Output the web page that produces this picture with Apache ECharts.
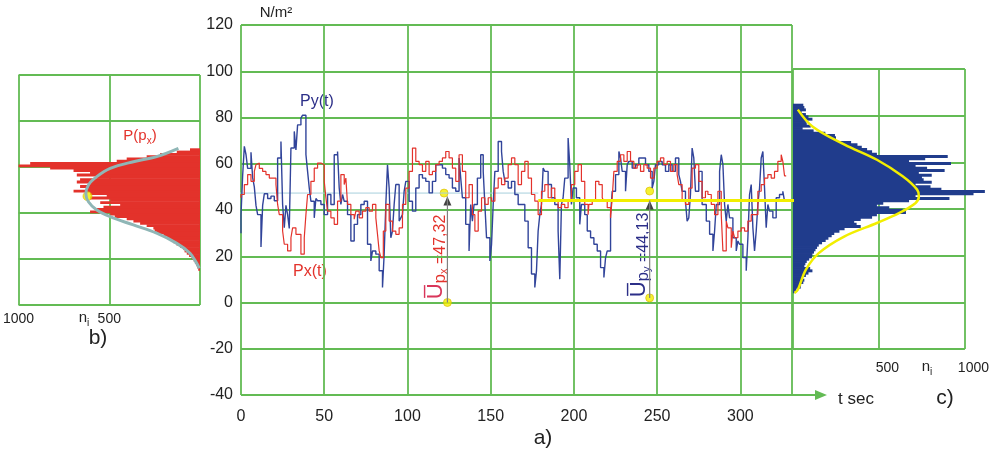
<!DOCTYPE html>
<html>
<head>
<meta charset="utf-8">
<script src="https://cdn.jsdelivr.net/npm/echarts@6.0.0/dist/echarts.min.js"></script>
<style>
  html, body { margin: 0; padding: 0; background: #ffffff; }
  #chart { width: 992px; height: 452px; }
</style>
</head>
<body>
<div id="chart"></div>
<script>
// ---- pressure time series, N/m2 versus time, s ----
const pyTime = [0,1,2,3,4,6,7,8,9,10,12,13,14,16,18,20,22,24,25,26,27,28,29,30,32,33,34,36,37,39,40,41,42,44,45,46,48,50,52,54,56,58,59,60,61,62,64,66,68,70,72,74,76,78,79,81,83,85,86,87,88,89,90,91,92,93,95,96,97,98,99,101,103,105,107,109,111,113,115,117,119,121,123,125,127,129,131,132,133,135,137,138,139,140,142,144,145.5,146.5,147.5,149.5,150.5,151.5,152.5,154.5,156.5,157.5,158.5,160.5,162.5,164.5,166.5,168.5,170.5,172.5,174.5,176.5,177.5,178.5,179.5,180.5,181.5,182.5,184.5,186.5,188.5,190.5,191.5,192.5,193.5,194.5,196.5,197.5,198.5,199.5,201.5,203.5,204.5,206.5,208,210,212,214,216,218,219,220,222,223,225,227,228,229,231,232,233,235,237,239,241,243,245,247,248,249,251,253,255,257,259,261,263,264,265,267,268,269,270,271,272,273,275,277,279.5,281.5,283.5,284.5,285.5,287.5,288.5,289.5,290.5,291.5,292.5,293.5,295.5,297.5,298.5,299.5,301.5,303.5,304.5,305.5,306.5,307.5,308.5,309.5,310.5,311.5,312.5,313.5,314.5,315.5,316.5,317.5,319.5,321.5,323.5,325.5,326.5,327.5];
const pyValue = [30,38,55,67.5,64,58,65,54,50,42,38,24,42,47,45,46,44,62.5,69.6,42.4,32.3,42,38,32,66.8,74,66,76.8,79.7,81,64,56.7,49.5,43.8,36.6,45,44,42.4,38,46.7,42.4,63.9,65.3,49.5,42.4,46.7,43.8,38,26.6,33.8,38,42.4,43.8,25.2,18,22.3,20.9,13.7,6.5,20.9,42.4,59.6,49.5,28,30.9,42.4,51,35.2,36.6,38,48.1,52.4,43.8,39.5,49.5,55.3,53.8,52.4,47.4,52.4,59.6,59.6,58.1,55.3,53.8,49.5,48.1,62.5,53.8,45.3,33.8,22.3,42.4,35.2,42.4,53.8,63.9,56.7,42.4,28,18,25,42.4,56.7,69.6,65.3,56.7,52.4,49.5,52.4,46.7,42.4,42.4,35.2,23.7,12.3,6.5,13.7,30.9,38,42.4,58.1,56.7,51,45.3,42.4,30.9,10.1,42.4,45.3,53.8,71.1,59.6,42.4,49.5,45.3,33.8,42.4,38,30.9,28,25.2,22.3,15.1,10.8,19.4,22.3,38,48.1,55.3,65.3,62.5,56.7,48.1,59.6,61,58.1,59.6,62.5,62.5,59.6,56.7,49.5,52.4,59.6,61,59.6,56.7,59.6,56.7,62.5,55.3,52.4,48.1,43.8,35.2,36.6,46.7,66.8,62.5,48.1,56.7,42.4,35.2,29.5,22.3,30.9,42.4,56.7,63.9,59.6,42.4,35.2,42.4,36.6,28,22.3,26.6,25.2,19.4,13.7,28,46.7,51,32.3,22.3,30.9,42.4,49.5,62.5,65.3,49.5,32.3,42.4,39.5,36.6,45.3,46.7,48.1,43.8];

const pxTime = [0,2,4,6,8,9,10,11,13,15,17,19,21,22,23,25,26,28,30,31,33,36,38,39,40,42,44,46,48,50,51,52,54,56,58,60,62,63,64,66,68,69,71,73,75,77,79,81,82,83,84,85.5,87,89,91,93,95,97,99,101,103,105,107,109,111,113,115,117,119,121,123,125,127,129,131,133,135,137,139,140.5,142.5,144.5,146.5,148.5,150.5,152.5,154.5,156.5,158.5,160.5,162.5,164.5,166.5,168.5,170.5,172.5,174.5,176.5,178.5,180.5,182.5,184.5,186.5,188.5,190.5,192.5,194.5,196.5,198.5,200.5,202.5,204.5,206.5,208.5,209,211,213,215,217,218,220,222,223,224,226,228,230,232,234,236,238,240,242,244,246,248,250,252,254,256,258,260,262,263,265,267,269,271,273,275,277,279,280.5,282.5,284.5,286.5,288.5,289.5,291.5,292.5,294.5,295.5,296.5,298.5,300.5,302.5,304.5,306.5,308.5,310.5,312.5,314.5,316.5,318.5,320.5,322.5,324.5,325.5,326.5,327.5];
const pxValue = [45.3,46.7,51,55.3,52.4,56.7,59.6,60.3,58,56.7,55.3,53.8,53.8,51,42.4,38,30.9,25.2,22.3,28,32.3,29.5,20.9,28,38,46.7,52.4,58.1,60.3,59.6,52.4,45.3,39.5,36.6,33.8,43.8,55.3,51,53.8,42.4,38,36,39.5,36.6,39.5,41,39.5,42.4,36.6,29.5,22.3,19.4,30.9,42.4,35.2,30.9,29.5,32.3,42.4,49.5,56.7,66.8,61,59.6,56.7,61,55.3,56.7,59.6,61,62.5,65.3,62.5,58.1,52.4,63.9,56.7,45.3,51,38,30.9,39.5,45.3,42.4,45.3,43.8,49.5,53.8,51,53.8,59.6,62.5,59.6,51,56.7,61,53.8,46.7,43.8,38,48.1,51,45.3,49.5,43.8,41,42.4,41,43.8,51,56.7,59.6,52.4,42.4,38,42.4,43.8,52.4,51,45.3,43.8,41,36.6,45.3,56.7,61,63.9,61,65.3,61,58.1,59.6,56.7,59.6,58.1,53.8,58.1,61,62.5,59.6,61,56.7,59.6,55.3,51,43.8,42.4,49.5,58.1,59.6,52.4,45.3,48.1,46.7,42.4,38,48.1,38,22.3,35.2,32.3,23.7,30.9,28,30.9,32.3,30.9,35.2,38,38,48.1,51,53.8,55.3,53.8,56.7,61,63.9,61,54.8];

// ---- distribution histograms: level (N/m2, 1-wide bins) and number of readings ----
const pxLevels = [15,16,17,18,19,20,21,22,23,24,25,26,27,28,29,30,31,32,33,34,35,36,37,38,39,40,41,42,43,44,45,46,47,48,49,50,51,52,53,54,55,56,57,58,59,60,61,62,63,64,65,66,67];
const pxCounts = [10,15,20,28,35,46,60,73,85,92,110,130,147,165,183,202,239,250,257,294,330,367,404,470,495,606,570,532,440,550,495,606,514,606,697,624,661,606,679,661,569,679,606,697,826,1000,936,459,404,294,220,128,55];

const pyLevels = [4,5,6,7,8,9,10,11,12,13,14,15,16,17,18,19,20,21,22,23,24,25,26,27,28,29,30,31,32,33,34,35,36,37,38,39,40,41,42,43,44,45,46,47,48,49,50,51,52,53,54,55,56,57,58,59,60,61,62,63,64,65,66,67,68,69,70,71,72,73,74,75,76,77,78,79,80,81,82,83,84];
const pyCounts = [10,20,45,47,60,66,56,75,90,113,100,66,72,80,94,110,113,122,131,140,150,169,190,206,225,240,270,300,394,370,356,394,460,488,657,638,560,488,525,675,910,713,1050,1116,863,800,713,807,760,750,807,732,882,780,713,919,675,769,900,488,460,431,400,375,338,244,250,244,188,120,56,103,80,75,113,90,75,50,75,66,60];

// ---- fitted distribution curves (number of readings, level) ----
const pxCurveN = [119,239,367,495,569,615,629,615,569,495,367,239,128,55,18,4];
const pxCurveV = [68.1,64.5,62.3,59.4,55.8,52.2,48.3,44.9,41.3,38.4,34.8,31.2,26.8,22.5,18.1,15.9];
const pyCurveN = [28,113,300,488,638,722,732,713,619,488,300,150,75,28,9];
const pyCurveV = [82.6,75.4,67.6,61.1,54,48.3,45.4,42.6,38.3,34,28.3,21.1,14,5.4,4];

// ---- statistics ----
const meanPx = 47.32;
const meanPy = 44.13;
const sigmaPx = 10.74;
const sigmaPy = 14.32;

// ---- axis ticks ----
const timeTicks = [0, 50, 100, 150, 200, 250, 300];
const pressureTicks = [-40, -20, 0, 20, 40, 60, 80, 100, 120];
const countTicks = [0, 500, 1000];

const GREEN = '#63bb54';
const RED = '#e3322b';
const NAVY = '#203c8c';
const LINE_BLUE = '#31449a';
const YELLOW = '#f2ee00';
const SANS = "'Liberation Sans', Arial, sans-serif";

const comma = v => String(v).replace('.', ',');

function histogram(color) {
  return function (params, api) {
    const n = api.value(0);
    const lvl = api.value(1);
    const a = api.coord([0, lvl]);
    const b = api.coord([n, lvl + 1]);
    return {
      type: 'rect',
      shape: {
        x: Math.min(a[0], b[0]),
        y: Math.min(a[1], b[1]) - 0.3,
        width: Math.abs(b[0] - a[0]),
        height: Math.abs(b[1] - a[1]) + 0.6
      },
      style: { fill: color }
    };
  };
}

function centered(x, y, text, font, fill) {
  return {
    type: 'text', x: x, y: y,
    style: { text: text, font: font, fill: fill, align: 'center', verticalAlign: 'middle', textAlign: 'center', textVerticalAlign: 'middle' }
  };
}

function withSub(x, y, base, sub, tail, size, fill) {
  return {
    type: 'text', x: x, y: y,
    style: {
      text: '{a|' + base + '}{s|' + sub + '}' + (tail ? '{a|' + tail + '}' : ''),
      align: 'center', verticalAlign: 'middle', textAlign: 'center', textVerticalAlign: 'middle',
      rich: {
        a: { fontSize: size, fontFamily: SANS, fill: fill, lineHeight: size + 5 },
        s: { fontSize: Math.round(size * 0.68), fontFamily: SANS, fill: fill, lineHeight: 10, verticalAlign: 'bottom' }
      }
    }
  };
}

function meanLabel(x, y, sub, value, color, barColor) {
  return {
    type: 'text', x: x, y: y, rotation: Math.PI / 2,
    style: {
      text: '{u|U\u0305}{p|p}{s|' + sub + '}{v| =' + comma(value) + '}',
      align: 'center', verticalAlign: 'middle', textAlign: 'center', textVerticalAlign: 'middle',
      rich: {
        u: { fontSize: 22, fontFamily: SANS, fill: barColor, lineHeight: 26 },
        p: { fontSize: 17, fontFamily: SANS, fill: color, lineHeight: 22, verticalAlign: 'bottom' },
        s: { fontSize: 11, fontFamily: SANS, fill: color, lineHeight: 8, verticalAlign: 'bottom' },
        v: { fontSize: 16, fontFamily: SANS, fill: color, lineHeight: 20, verticalAlign: 'bottom' }
      }
    }
  };
}

const gridLine = { show: true, lineStyle: { color: GREEN, width: 1.8 } };

const chart = echarts.init(document.getElementById('chart'), null, { renderer: 'canvas' });

const option = {
  animation: false,
  backgroundColor: '#ffffff',
  grid: [
    { left: 18, top: 75, width: 182, height: 230 },   // b) Px distribution
    { left: 241, top: 25, width: 551, height: 370 },  // a) time series
    { left: 793, top: 69, width: 178, height: 280 }   // c) Py distribution
  ],
  xAxis: [
    {
      gridIndex: 0, type: 'value', min: 0, max: 1000, interval: 500, inverse: true,
      axisLine: { show: false }, axisTick: { show: false }, splitLine: gridLine,
      axisLabel: {
        margin: 7, fontSize: 14, fontFamily: SANS, color: '#222',
        formatter: v => (countTicks.indexOf(v) > 0 ? String(v) : '')
      }
    },
    {
      gridIndex: 1, type: 'value', min: 0, max: 331, interval: 50,
      axisLine: { show: false }, axisTick: { show: false }, splitLine: gridLine,
      axisLabel: {
        margin: 14, fontSize: 16, fontFamily: SANS, color: '#222',
        formatter: v => (timeTicks.indexOf(v) >= 0 ? String(v) : '')
      }
    },
    {
      gridIndex: 2, type: 'value', min: 0, max: 1000, interval: 500,
      axisLine: { show: false }, axisTick: { show: false }, splitLine: gridLine,
      axisLabel: {
        margin: 12, fontSize: 14, fontFamily: SANS, color: '#222', padding: [0, 0, 0, 17],
        formatter: v => (countTicks.indexOf(v) > 0 ? String(v) : '')
      }
    }
  ],
  yAxis: [
    {
      gridIndex: 0, type: 'value', min: 0, max: 100, interval: 20,
      axisLine: { show: false }, axisTick: { show: false }, axisLabel: { show: false },
      splitLine: gridLine
    },
    {
      gridIndex: 1, type: 'value', min: -40, max: 120, interval: 20,
      axisLine: { show: false }, axisTick: { show: false }, splitLine: gridLine,
      axisLabel: {
        margin: 8, fontSize: 16, fontFamily: SANS, color: '#222', padding: [8, 0, 0, 0],
        formatter: v => (pressureTicks.indexOf(v) >= 0 ? String(v) : '')
      }
    },
    {
      gridIndex: 2, type: 'value', min: -20, max: 100, interval: 20,
      axisLine: { show: false }, axisTick: { show: false }, axisLabel: { show: false },
      splitLine: gridLine
    }
  ],
  series: [
    // b) histogram of Px
    {
      type: 'custom', xAxisIndex: 0, yAxisIndex: 0,
      renderItem: histogram(RED),
      data: pxLevels.map((l, i) => [pxCounts[i], l])
    },
    // c) histogram of Py
    {
      type: 'custom', xAxisIndex: 2, yAxisIndex: 2,
      renderItem: histogram(NAVY),
      data: pyLevels.map((l, i) => [pyCounts[i], l])
    },
    // mean level of Px, carried across from panel b)
    {
      type: 'line', xAxisIndex: 1, yAxisIndex: 1, clip: false, symbol: 'none',
      lineStyle: { color: '#a6cfdc', width: 1 },
      data: [[-92, meanPx], [178.6, meanPx]]
    },
    // fitted curve P(px)
    {
      type: 'line', xAxisIndex: 0, yAxisIndex: 0, smooth: 0.35, symbol: 'none',
      lineStyle: { color: '#8fb6b6', width: 3 },
      data: pxCurveN.map((n, i) => [n, pxCurveV[i]])
    },
    {
      type: 'scatter', xAxisIndex: 0, yAxisIndex: 0, symbolSize: 9,
      itemStyle: { color: YELLOW, borderColor: '#d9b800', borderWidth: 0.8 },
      data: [[620, meanPx]]
    },
    // a) time series
    {
      name: 'Py(t)', type: 'line', xAxisIndex: 1, yAxisIndex: 1, step: 'start', symbol: 'none',
      lineStyle: { color: LINE_BLUE, width: 1.4 },
      data: pyTime.map((t, i) => [t, pyValue[i]])
    },
    {
      name: 'Px(t)', type: 'line', xAxisIndex: 1, yAxisIndex: 1, step: 'start', symbol: 'none',
      lineStyle: { color: RED, width: 1.2 },
      data: pxTime.map((t, i) => [t, pxValue[i]])
    },
    // mean level of Py, carried across into panel c)
    {
      type: 'line', xAxisIndex: 1, yAxisIndex: 1, clip: false, symbol: 'none',
      lineStyle: { color: YELLOW, width: 3 },
      data: [[178.6, meanPy], [451, meanPy]]
    },
    // fitted curve P(py)
    {
      type: 'line', xAxisIndex: 2, yAxisIndex: 2, smooth: 0.35, symbol: 'none',
      lineStyle: { color: YELLOW, width: 2.5 },
      data: pyCurveN.map((n, i) => [n, pyCurveV[i]])
    },
    // mean markers
    {
      type: 'line', xAxisIndex: 1, yAxisIndex: 1, symbol: 'none',
      lineStyle: { color: '#808080', width: 1.2 },
      data: [[124, 0], [124, meanPx - 1.5]]
    },
    {
      type: 'line', xAxisIndex: 1, yAxisIndex: 1, symbol: 'none',
      lineStyle: { color: '#808080', width: 1.2 },
      data: [[245.5, 2], [245.5, meanPy]]
    },
    {
      type: 'scatter', xAxisIndex: 1, yAxisIndex: 1, symbol: 'triangle',
      symbolSize: [8, 9], symbolOffset: [0, '50%'],
      itemStyle: { color: '#111111' },
      data: [[124, meanPx - 1.5], [245.5, meanPy]]
    },
    {
      type: 'scatter', xAxisIndex: 1, yAxisIndex: 1, symbolSize: 8,
      itemStyle: { color: YELLOW, borderColor: '#d9b800', borderWidth: 0.8 },
      data: [[122, meanPx], [124, 0], [245.5, 48.2], [245.5, 2]]
    }
  ],
  graphic: [
    centered(276, 13, 'N/m²', '15px ' + SANS, '#222'),
    centered(856, 399, 't sec', '17px ' + SANS, '#222'),
    centered(543, 438, 'a)', '21px ' + SANS, '#222'),
    centered(98, 338, 'b)', '21px ' + SANS, '#222'),
    centered(945, 398, 'c)', '21px ' + SANS, '#222'),
    withSub(84, 318, 'n', 'i', '', 15, '#222'),
    withSub(927, 367, 'n', 'i', '', 15, '#222'),
    centered(317, 102, 'Py(t)', '16px ' + SANS, '#2c2f88'),
    centered(310, 272, 'Px(t)', '16px ' + SANS, RED),
    withSub(140, 136, 'P(p', 'x', ')', 15, RED),
    withSub(163, 207, 'σ', 'px', '=' + comma(sigmaPx), 13, '#f5b800'),
    withSub(850, 181, 'σ', 'py', '=' + comma(sigmaPy), 13, '#e3e34a'),
    meanLabel(436, 257, 'x', meanPx, RED, '#d9365a'),
    meanLabel(639, 255, 'y', meanPy, '#2c2f88', '#2c2f88')
  ]
};

chart.setOption(option);

// time axis drawn as an arrow running past the plot area
const axisStart = chart.convertToPixel({ gridIndex: 1 }, [0, -40]);
const axisEnd = chart.convertToPixel({ gridIndex: 1 }, [346, -40]);
option.graphic.push(
  {
    type: 'line', z: 10,
    shape: { x1: axisStart[0], y1: axisStart[1], x2: axisEnd[0], y2: axisEnd[1] },
    style: { stroke: GREEN, lineWidth: 2 }
  },
  {
    type: 'polygon', z: 10,
    shape: { points: [[axisEnd[0] - 2, axisEnd[1] - 5], [axisEnd[0] + 10, axisEnd[1]], [axisEnd[0] - 2, axisEnd[1] + 5]] },
    style: { fill: GREEN }
  }
);
chart.setOption(option);
</script>
</body>
</html>
